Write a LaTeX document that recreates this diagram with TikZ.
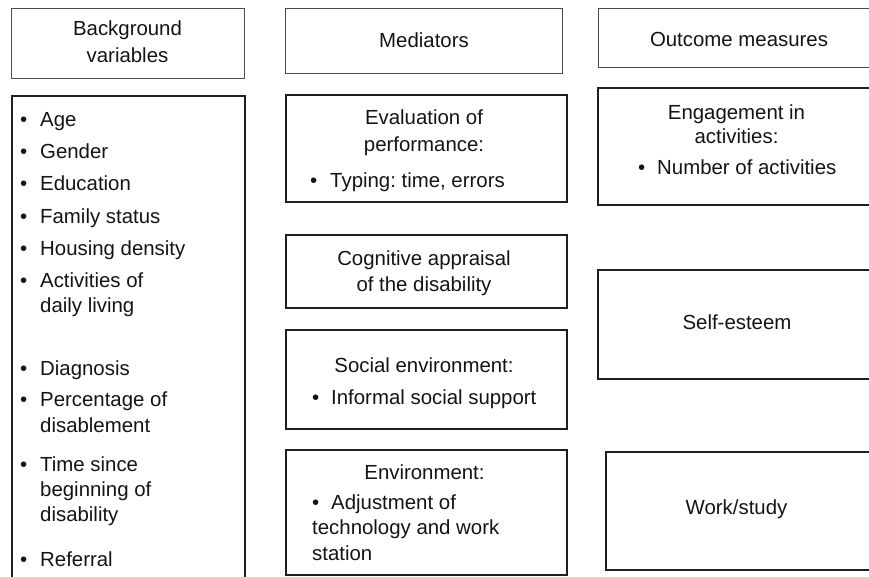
\documentclass[tikz,border=0pt]{standalone}
\usepackage{fontspec}
\setmainfont{Liberation Sans}
\usepackage{tikz}
\frenchspacing

\newcommand{\bul}[1]{\makebox[#1][l]{\textbullet}}

\tikzset{
  hdrbox/.style={draw=black!70, line width=0.9pt},
  itembox/.style={draw=black!88, line width=1.7pt},
  txt/.style={anchor=base, inner sep=0pt, text=black!92,
    font=\fontsize{20.4}{25}\selectfont},
  ltxt/.style={txt, anchor=base west},
}

\begin{document}
\begin{tikzpicture}[x=1pt, y=-1pt]
    \useasboundingbox (0,0) rectangle (869,577);
    \clip (0,0) rectangle (869,577);

    % column headings
    \draw[hdrbox] (11,8) rectangle (244,78);
    \draw[hdrbox] (285,8) rectangle (562,73);
    \draw[hdrbox] (598,8) rectangle (885,67);
    \node[txt] (hback) at (127.5,36) {Background};
    \node[txt] (hback2) at (127.5,63) {variables};
    \node[txt] (hmed) at (424,48) {Mediators};
    \node[txt] (hout) at (739,47) {Outcome measures};

    % background variables
    \draw[itembox] (12,96) rectangle (245,600);
    \node[ltxt] (age) at (20,127) {\bul{20pt}Age};
    \node[ltxt] (gender) at (20,159) {\bul{20pt}Gender};
    \node[ltxt] (edu) at (20,191) {\bul{20pt}Education};
    \node[ltxt] (family) at (20,223) {\bul{20pt}Family status};
    \node[ltxt] (housing) at (20,255) {\bul{20pt}Housing density};
    \node[ltxt] (adl) at (20,287) {\bul{20pt}Activities of};
    \node[ltxt] (adl2) at (40,312) {daily living};
    \node[ltxt] (diag) at (20,375) {\bul{20pt}Diagnosis};
    \node[ltxt] (pct) at (20,406) {\bul{20pt}Percentage of};
    \node[ltxt] (pct2) at (40,432) {disablement};
    \node[ltxt] (since) at (20,471) {\bul{20pt}Time since};
    \node[ltxt] (since2) at (40,496) {beginning of};
    \node[ltxt] (since3) at (40,521) {disability};
    \node[ltxt] (referral) at (20,566) {\bul{20pt}Referral};

    % mediators
    \draw[itembox] (286,95) rectangle (567,202);
    \node[txt] (eval) at (424,125) {Evaluation of};
    \node[txt] (eval2) at (424,152) {performance:};
    \node[ltxt] (typing) at (310,188) {\bul{20pt}Typing: time, errors};

    \draw[itembox] (286,235) rectangle (567,308);
    \node[txt] (cog) at (424,265) {Cognitive appraisal};
    \node[txt] (cog2) at (424,291) {of the disability};

    \draw[itembox] (286,330) rectangle (567,429);
    \node[txt] (soc) at (424,372) {Social environment:};
    \node[ltxt] (support) at (312,404) {\bul{19pt}Informal social support};

    \draw[itembox] (286,450) rectangle (567,575);
    \node[txt] (env) at (424.5,479) {Environment:};
    \node[ltxt] (adjust) at (312,509) {\bul{19pt}Adjustment of};
    \node[ltxt] (adjust2) at (312,534) {technology and work};
    \node[ltxt] (adjust3) at (312,560) {station};

    % outcome measures
    \draw[itembox] (598,88) rectangle (885,205);
    \node[txt] (engage) at (736.5,120) {Engagement in};
    \node[txt] (engage2) at (736.5,144) {activities:};
    \node[ltxt] (number) at (638,175) {\bul{19pt}Number of activities};

    \draw[itembox] (598,270) rectangle (885,379);
    \node[txt] (esteem) at (737,329) {Self-esteem};

    \draw[itembox] (606,452) rectangle (885,570);
    \node[txt] (work) at (736.5,514) {Work/study};
\end{tikzpicture}
\end{document}
